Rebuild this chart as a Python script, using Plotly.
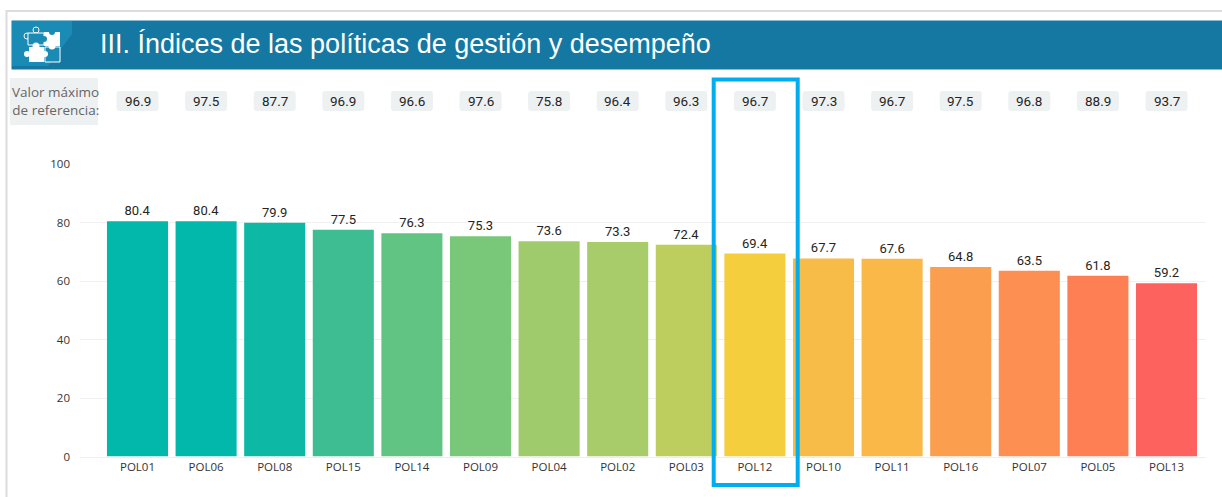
import plotly.graph_objects as go

categories = ["POL01","POL06","POL08","POL15","POL14","POL09","POL04","POL02","POL03","POL12","POL10","POL11","POL16","POL07","POL05","POL13"]
values = [80.4,80.4,79.9,77.5,76.3,75.3,73.6,73.3,72.4,69.4,67.7,67.6,64.8,63.5,61.8,59.2]
max_ref = [96.9,97.5,87.7,96.9,96.6,97.6,75.8,96.4,96.3,96.7,97.3,96.7,97.5,96.8,88.9,93.7]
colors = ["#01B8AA","#01B8AA","#0DB9A4","#3FBD92","#62C482","#79C778","#A0CB6C","#A8CC69","#BDCE5E","#F5CE3E","#F7BB47","#F9B847","#FB9E4E","#FE8F52","#FF7F55","#FD625E"]
highlight = "POL12"
title = "III. Índices de las políticas de gestión y desempeño"
side_label = "Valor máximo<br>de referencia:"

W, H = 1222, 497
fx = lambda p: p / W
fy = lambda p: 1 - p / H

L, R, T, B = 80, 1206, 164, 456.5
slot = 68.6
first_center = 137.5
x_lo = (L - first_center) / slot
x_hi = (R - first_center) / slot

fig = go.Figure(go.Bar(
    x=list(range(len(categories))), y=values, width=0.89,
    marker=dict(color=colors, line=dict(width=0)),
    text=[f"{v:.1f}" for v in values], textposition="outside", cliponaxis=False,
    textfont=dict(family="Roboto", size=13, color="#252423"),
))

shapes, anns = [], []

def rect(x0, y0, x1, y1, **kw):
    shapes.append(dict(type="rect", xref="paper", yref="paper", x0=fx(x0), x1=fx(x1), y0=fy(y0), y1=fy(y1), **kw))

def pix_path(points, color, outline=None):
    d = "M" + " L".join(f"{fx(a):.5f},{fy(b):.5f}" for a, b in points) + " Z"
    line = dict(color=outline, width=1) if outline else dict(width=0)
    shapes.append(dict(type="path", xref="paper", yref="paper", path=d, fillcolor=color, line=line))

def dot(a, b, r, color, outline=None):
    line = dict(color=outline, width=1) if outline else dict(width=0)
    shapes.append(dict(type="circle", xref="paper", yref="paper", x0=fx(a - r), x1=fx(a + r), y0=fy(b - r), y1=fy(b + r),
                       fillcolor=color, line=line))

# outer frame
rect(6.5, 11, W + 5, H + 5, line=dict(color="#dcdcdc", width=2), fillcolor="rgba(0,0,0,0)")
# header band
rect(11.5, 20.5, W + 5, 69.5, fillcolor="#1478A3", line=dict(width=0))
pix_path([(12, 21), (72, 21), (72, 34), (48, 66), (12, 66)], "#1A8BB5")
# puzzle icon
dot(36, 30, 3, "#1A8BB5", "#ffffff")
dot(27, 36, 3, "#1A8BB5", "#ffffff")
pix_path([(28, 33), (44, 33), (44, 45), (28, 45)], "#1A8BB5", "#ffffff")
pix_path([(44, 32), (60, 32), (60, 46), (44, 46)], "#ffffff")
dot(52, 32, 3, "#1A8BB5")
dot(44, 39, 3, "#1A8BB5")
pix_path([(29, 47), (44, 47), (44, 62), (29, 62)], "#ffffff")
dot(36, 46, 3.5, "#ffffff")
dot(27, 54, 3, "#ffffff")
pix_path([(45, 47), (60, 47), (60, 62), (45, 62)], "#1A8BB5", "#ffffff")
dot(52, 46, 3.5, "#ffffff")
dot(45, 54, 3, "#ffffff")
anns.append(dict(text=title, xref="paper", yref="paper", x=fx(97.5), y=fy(44), xanchor="left", yanchor="middle",
                 showarrow=False, font=dict(family="Liberation Sans", size=27, color="#ffffff")))
# side label
rect(10, 78, 98, 125, fillcolor="#EEF1F2", line=dict(width=0))
anns.append(dict(text=side_label, xref="paper", yref="paper", x=fx(101), y=fy(100.5), xanchor="right", yanchor="middle",
                 align="right", showarrow=False, font=dict(family="Open Sans", size=13.5, color="#666666")))
# reference badges
badge = "M-18,-10 L18,-10 Q21,-10 21,-7 L21,7 Q21,10 18,10 L-18,10 Q-21,10 -21,7 L-21,-7 Q-21,-10 -18,-10 Z"
for i, m in enumerate(max_ref):
    shapes.append(dict(type="path", xref="x", xsizemode="pixel", xanchor=i, yref="paper", ysizemode="pixel",
                       yanchor=fy(101), path=badge, fillcolor="#EEF1F2", line=dict(width=0)))
    anns.append(dict(text=f"{m:.1f}", x=i, xref="x", yref="paper", y=fy(101.5), yanchor="middle", showarrow=False,
                     font=dict(family="Roboto", size=13.5, color="#252423")))
# highlight box around one category
h = categories.index(highlight)
shapes.append(dict(type="rect", xref="x", xsizemode="pixel", xanchor=h, yref="paper", x0=-41.2, x1=42.8,
                   y0=fy(485), y1=fy(79.5), line=dict(color="#00ADEF", width=4), fillcolor="rgba(0,0,0,0)"))

fig.update_layout(
    width=W, height=H, margin=dict(l=0, r=0, t=0, b=0), showlegend=False,
    paper_bgcolor="#ffffff", plot_bgcolor="#ffffff", shapes=shapes, annotations=anns,
    font=dict(family="Open Sans", color="#333333"),
)
fig.update_xaxes(domain=[fx(L), fx(R)], range=[x_lo, x_hi], tickmode="array", automargin=False,
                 tickvals=list(range(len(categories))), ticktext=categories, showgrid=False, zeroline=False,
                 showline=True, linecolor="#eeeeee", ticks="", tickfont=dict(family="Open Sans", size=11.5, color="#333333"))
fig.update_yaxes(domain=[fy(B), fy(T)], range=[0, 100], tick0=0, dtick=20, gridcolor="#f0f0f0", zeroline=False,
                 automargin=False, ticks="", ticklabelstandoff=9, tickfont=dict(family="Open Sans", size=11.5, color="#333333"))

fig.write_html("out.html", config={"displayModeBar": False},
               post_script="document.body.style.margin='0';document.documentElement.style.overflow='hidden';")
